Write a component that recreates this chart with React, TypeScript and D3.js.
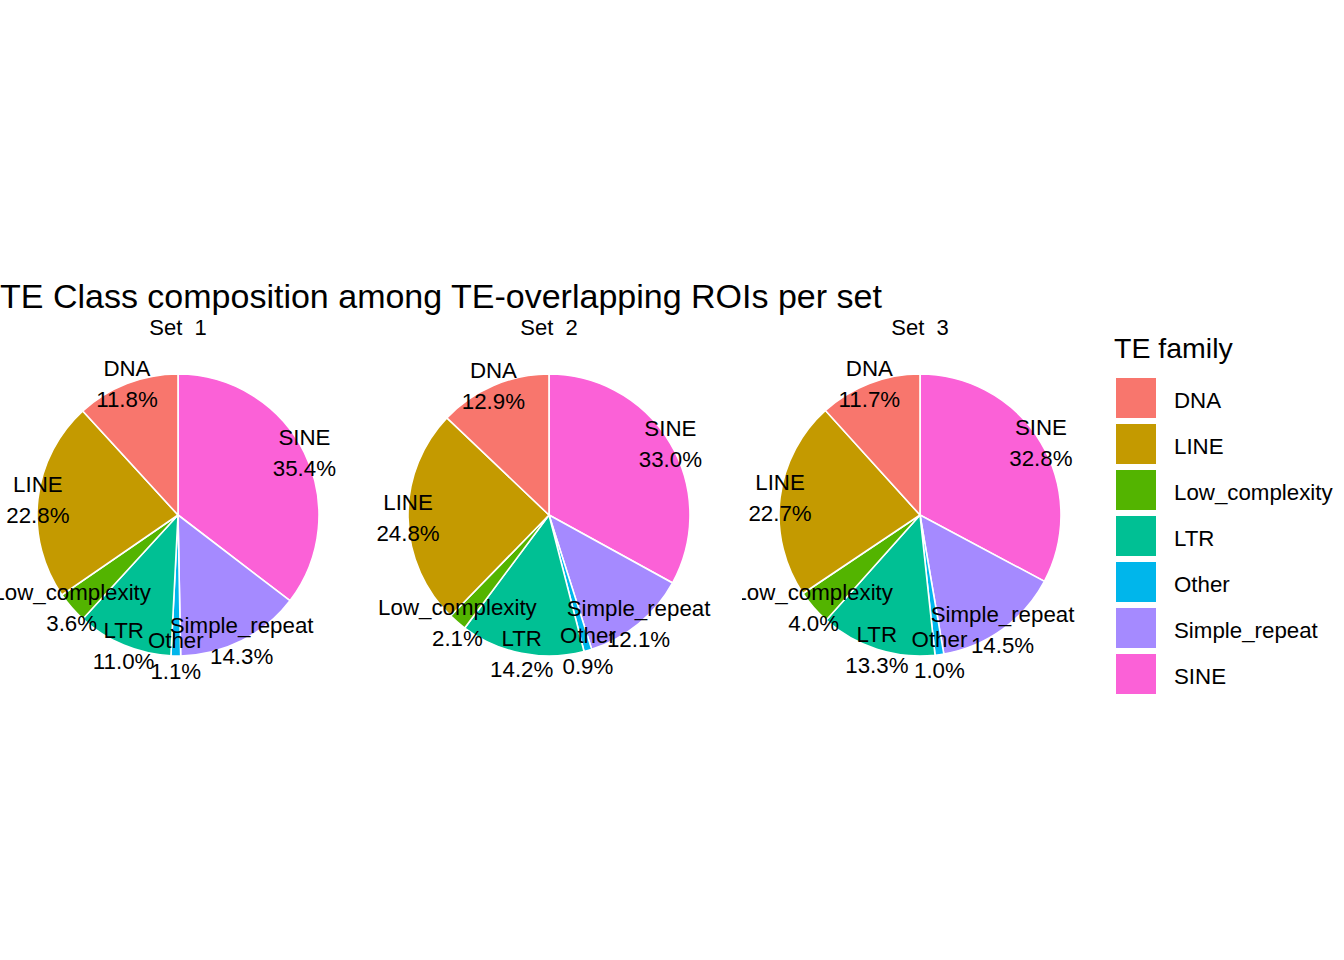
import { useEffect, useRef } from "react";
import * as d3 from "d3";

const families = ["DNA", "LINE", "Low_complexity", "LTR", "Other", "Simple_repeat", "SINE"];
const familyColors = ["#F8766D", "#C49A00", "#53B400", "#00C094", "#00B6EB", "#A58AFF", "#FB61D7"];
const setNames = ["Set  1", "Set  2", "Set  3"];
const set1 = [11.8, 22.8, 3.6, 11.0, 1.1, 14.3, 35.4];
const set2 = [12.9, 24.8, 2.1, 14.2, 0.9, 12.1, 33.0];
const set3 = [11.7, 22.7, 4.0, 13.3, 1.0, 14.5, 32.8];

const FONT = "'Liberation Sans', Arial, sans-serif";

type Slice = { family: string; pct: number };

function App() {
  const svgRef = useRef<SVGSVGElement | null>(null);

  useEffect(() => {
    if (!svgRef.current) return;
    const svg = d3.select(svgRef.current);
    svg.selectAll("*").remove();

    const width = 1344;
    const height = 960;
    svg.attr("width", width).attr("height", height);

    const color = d3.scaleOrdinal<string, string>().domain(families).range(familyColors);

    // facet centres
    const cx = d3.scalePoint<string>().domain(setNames).range([178, 920]);
    const cy = 515;
    const radius = 141;
    const labelR = 141;
    const linePitch = 31;
    const panelHalf = 178; // each facet panel clips its own labels

    // title
    svg
      .append("text")
      .attr("x", 0)
      .attr("y", 308)
      .style("font-family", FONT)
      .style("font-size", "34px")
      .text("TE Class composition among TE-overlapping ROIs per set");

    const pie = d3
      .pie<Slice>()
      .sort(null)
      .value((d) => d.pct)
      .startAngle(0)
      .endAngle(2 * Math.PI);
    const arc = d3.arc<d3.PieArcDatum<Slice>>().innerRadius(0).outerRadius(radius);

    const defs = svg.append("defs");

    [set1, set2, set3].forEach((vals, i) => {
      const name = setNames[i];
      // stacked order: SINE first clockwise from 12 o'clock
      const slices: Slice[] = families.map((f, j) => ({ family: f, pct: vals[j] })).reverse();
      const arcs = pie(slices);

      defs
        .append("clipPath")
        .attr("id", `panel-${i}`)
        .append("rect")
        .attr("x", -panelHalf)
        .attr("y", -180)
        .attr("width", panelHalf * 2)
        .attr("height", 360);

      const g = svg
        .append("g")
        .attr("transform", `translate(${cx(name)},${cy})`)
        .attr("clip-path", `url(#panel-${i})`);

      g.selectAll("path")
        .data(arcs)
        .enter()
        .append("path")
        .attr("d", arc)
        .attr("fill", (d) => color(d.data.family))
        .attr("stroke", "white")
        .attr("stroke-width", 1.6);

      // strip label
      svg
        .append("text")
        .attr("x", cx(name)!)
        .attr("y", 335)
        .attr("text-anchor", "middle")
        .style("font-family", FONT)
        .style("font-size", "22px")
        .style("white-space", "pre")
        .text(name);

      // slice labels
      const labels = g
        .selectAll("text.lab")
        .data(arcs.slice().reverse())
        .enter()
        .append("text")
        .attr("class", "lab")
        .attr("text-anchor", "middle")
        .style("font-family", FONT)
        .style("font-size", "22.3px")
        .attr("transform", (d) => {
          const a = (d.startAngle + d.endAngle) / 2;
          return `translate(${labelR * Math.sin(a)},${-labelR * Math.cos(a)})`;
        });
      labels
        .append("tspan")
        .attr("x", 0)
        .attr("y", -linePitch / 2 + 8)
        .text((d) => d.data.family);
      labels
        .append("tspan")
        .attr("x", 0)
        .attr("y", linePitch / 2 + 8)
        .text((d) => `${d.data.pct.toFixed(1)}%`);
    });

    // legend
    const legend = svg.append("g").attr("transform", "translate(1114,0)");
    legend
      .append("text")
      .attr("x", 0)
      .attr("y", 358)
      .style("font-family", FONT)
      .style("font-size", "28.5px")
      .text("TE family");

    const row = d3.scaleBand<string>().domain(families).range([378, 378 + 46 * families.length]);
    const items = legend
      .selectAll("g.item")
      .data(families)
      .enter()
      .append("g")
      .attr("class", "item")
      .attr("transform", (d) => `translate(0,${row(d)})`);
    items
      .append("rect")
      .attr("x", 2)
      .attr("y", 0)
      .attr("width", 40)
      .attr("height", 40)
      .attr("fill", (d) => color(d));
    items
      .append("text")
      .attr("x", 60)
      .attr("y", 30)
      .style("font-family", FONT)
      .style("font-size", "22.3px")
      .text((d) => d);

    return () => {
      d3.select(svgRef.current).selectAll("*").remove();
    };
  }, []);

  return (
    <svg
      ref={svgRef}
      style={{ position: "absolute", left: 0, top: 0, display: "block", background: "white" }}
    ></svg>
  );
}

export default App;
